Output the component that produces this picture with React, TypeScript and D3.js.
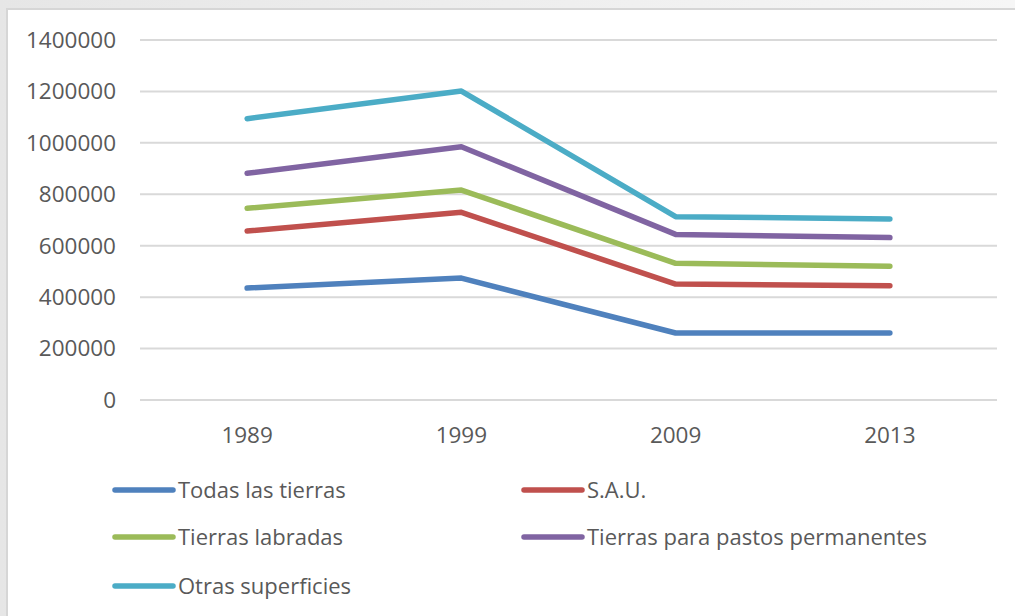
import React from 'react';
import * as d3 from 'd3';

const years = ['1989', '1999', '2009', '2013'];
const yTicks = [0, 200000, 400000, 600000, 800000, 1000000, 1200000, 1400000];

const seriesNames = ['Todas las tierras', 'S.A.U.', 'Tierras labradas', 'Tierras para pastos permanentes', 'Otras superficies'];
const seriesColors = ['#4F81BD', '#C0504D', '#9BBB59', '#8064A2', '#4BACC6'];
const todasLasTierras = [435500, 474000, 260500, 260500];
const sau = [657000, 730000, 451000, 444500];
const tierrasLabradas = [745500, 816500, 531500, 520000];
const pastosPermanentes = [881500, 985000, 644000, 631500];
const otrasSuperficies = [1094000, 1201500, 713000, 704000];
const seriesValues = [todasLasTierras, sau, tierrasLabradas, pastosPermanentes, otrasSuperficies];

const W = 1015, H = 616;
const margin = {left: 140, right: 18, top: 40, bottom: 216};
const font = '"Open Sans", "Noto Sans", sans-serif';
const textColor = '#595959';

export default function App() {
    const x = d3.scaleBand().domain(years).range([margin.left, W - margin.right]);
    const y = d3.scaleLinear().domain([0, 1400000]).range([H - margin.bottom, margin.top]);
    const line = d3.line<number>()
        .x((_, i) => (x(years[i]) as number) + x.bandwidth() / 2)
        .y(d => y(d));

    // legend layout: two columns, three rows
    const legendCols = [115, 524];
    const legendRows = [490, 537, 586];

    return (
        <svg width={W} height={H} style={{position: 'absolute', left: 0, top: 0, display: 'block'}}>
            <defs>
                <linearGradient id="bg" x1="0" y1="0" x2="1" y2="0">
                    <stop offset="0" stopColor="#e6e6e6"/>
                    <stop offset="1" stopColor="#f6f6f6"/>
                </linearGradient>
            </defs>
            <rect x={0} y={0} width={W} height={H} fill="url(#bg)"/>
            <rect x={7} y={9} width={W + 10} height={H + 10} fill="#ffffff" stroke="#d6d6d6" strokeWidth={2}/>

            {yTicks.map(t => (
                <g key={t}>
                    <line x1={margin.left} x2={W - margin.right} y1={y(t)} y2={y(t)} stroke="#d9d9d9" strokeWidth={2}/>
                    <text x={116} y={y(t)} dy="0.35em" textAnchor="end" fontFamily={font} fontSize={22.5} fill={textColor}>{t}</text>
                </g>
            ))}

            {years.map(yr => (
                <text key={yr} x={(x(yr) as number) + x.bandwidth() / 2} y={435} dy="0.35em" textAnchor="middle"
                      fontFamily={font} fontSize={22.5} fill={textColor}>{yr}</text>
            ))}

            {seriesValues.map((vals, i) => (
                <path key={seriesNames[i]} d={line(vals) || ''} fill="none" stroke={seriesColors[i]}
                      strokeWidth={5.5} strokeLinecap="round" strokeLinejoin="round"/>
            ))}

            {seriesNames.map((name, i) => {
                const lx = legendCols[i % 2];
                const ly = legendRows[Math.floor(i / 2)];
                return (
                    <g key={name}>
                        <line x1={lx} x2={lx + 58} y1={ly} y2={ly} stroke={seriesColors[i]} strokeWidth={5.5} strokeLinecap="round"/>
                        <text x={lx + 63} y={ly} dy="0.35em" fontFamily={font} fontSize={22} fill={textColor}>{name}</text>
                    </g>
                );
            })}
        </svg>
    );
}
